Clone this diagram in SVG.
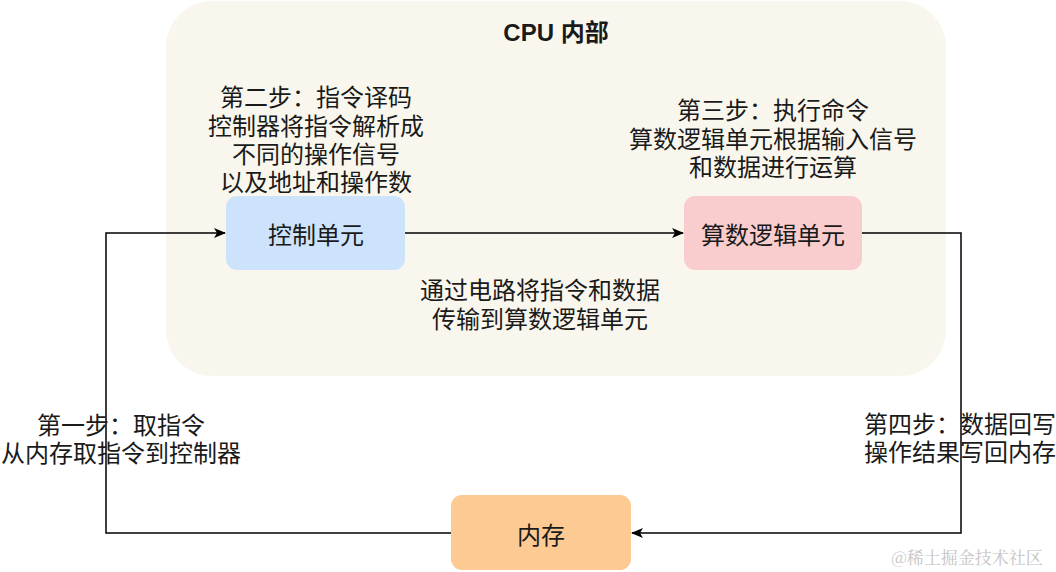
<svg xmlns="http://www.w3.org/2000/svg" width="1056" height="572" viewBox="0 0 1056 572">
<style>
.t{font-family:"Noto Sans CJK SC","Liberation Sans",sans-serif;font-size:24px;fill:#1a1a1a;text-anchor:middle;dominant-baseline:central}
.b{font-family:"Liberation Sans","Noto Sans CJK SC",sans-serif;font-weight:bold}
.ln{fill:none;stroke:#000;stroke-width:1.5}
.wm{font-family:"Noto Serif CJK SC","Liberation Serif","Noto Sans CJK SC",serif;font-size:17px;fill:#c4c4c4;text-anchor:middle;dominant-baseline:central}
</style>
<defs>
<marker id="ar" viewBox="0 0 12 10" refX="11" refY="5" markerWidth="12" markerHeight="10" markerUnits="userSpaceOnUse" orient="auto">
<path d="M0,0 L12,5 L0,10 L3,5 Z" fill="#000"/>
</marker>
</defs>
<rect width="1056" height="572" fill="#fff"/>
<g id="cpu">
<rect x="166" y="1" width="780" height="375" rx="46" ry="46" fill="#f9f7ed"/>
<text class="t b" x="556" y="32">CPU 内部</text>
</g>
<g id="connectors">
<path class="ln" d="M405,233 H683" marker-end="url(#ar)"/>
<path class="ln" d="M862,233 H961 V533 H632" marker-end="url(#ar)"/>
<path class="ln" d="M451,533 H106 V233 H225" marker-end="url(#ar)"/>
</g>
<g id="control">
<rect x="226" y="196" width="179" height="74" rx="11" fill="#cce3fb"/>
<text class="t" x="316" y="233">控制单元</text>
</g>
<g id="alu">
<rect x="684" y="196" width="178" height="74" rx="11" fill="#f9cdcd"/>
<text class="t" x="773" y="233">算数逻辑单元</text>
</g>
<g id="memory">
<rect x="451" y="495" width="180" height="75" rx="11" fill="#fdca93"/>
<text class="t" x="541" y="533">内存</text>
</g>
<g id="labels">
<text class="t" x="316" y="95">第二步：指令译码</text>
<text class="t" x="316" y="124">控制器将指令解析成</text>
<text class="t" x="316" y="152">不同的操作信号</text>
<text class="t" x="316" y="180">以及地址和操作数</text>
<text class="t" x="773" y="108">第三步：执行命令</text>
<text class="t" x="773" y="137">算数逻辑单元根据输入信号</text>
<text class="t" x="773" y="165">和数据进行运算</text>
<text class="t" x="540" y="288">通过电路将指令和数据</text>
<text class="t" x="540" y="317">传输到算数逻辑单元</text>
<text class="t" x="121" y="423">第一步：取指令</text>
<text class="t" x="121" y="451">从内存取指令到控制器</text>
<text class="t" x="960" y="422">第四步：数据回写</text>
<text class="t" x="960" y="450">操作结果写回内存</text>
</g>
<text class="wm" x="967" y="556">@稀土掘金技术社区</text>
</svg>
